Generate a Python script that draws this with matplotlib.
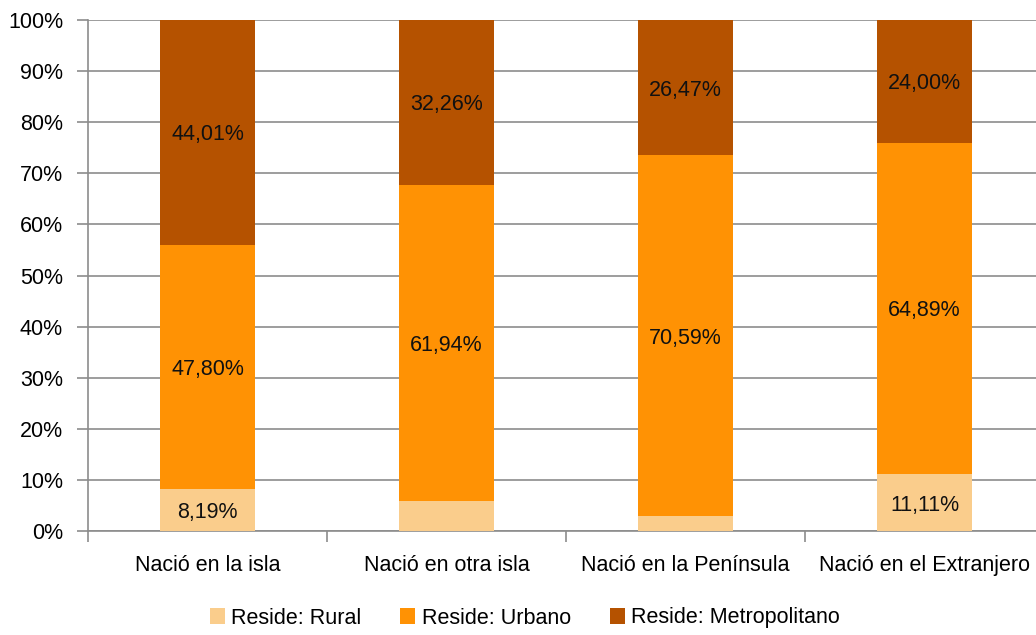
import numpy as np
import matplotlib.pyplot as plt
from matplotlib.ticker import FixedLocator, PercentFormatter

plt.rcParams['font.family'] = ['Liberation Sans', 'DejaVu Sans']

# datos (porcentajes)
categorias = ['Nació en la isla', 'Nació en otra isla', 'Nació en la Península', 'Nació en el Extranjero']
rural = [8.19, 5.80, 2.94, 11.11]
urbano = [47.80, 61.94, 70.59, 64.89]
metro = [44.01, 32.26, 26.47, 24.00]
series = ['Reside: Rural', 'Reside: Urbano', 'Reside: Metropolitano']
colores = ['#FACD8C', '#FF9204', '#B55200']
min_etiqueta = 7  # no se rotulan segmentos pequeños

fig = plt.figure(figsize=(10.36, 6.35), dpi=100)
ax = fig.add_axes([88 / 1036, 104 / 635, 956 / 1036, 511 / 635])

x = np.arange(len(categorias))
base = np.zeros(len(categorias))
for vals, nom, col in zip([rural, urbano, metro], series, colores):
    vals = np.array(vals)
    ax.bar(x, vals, 0.4, bottom=base, color=col, label=nom, zorder=3)
    for xi, b, v in zip(x, base, vals):
        if v >= min_etiqueta:
            ax.text(xi, b + v / 2, f'{v:.2f}%'.replace('.', ','), ha='center', va='center_baseline',
                    fontsize=15.5, color='#111111', zorder=4)
    base = base + vals

ax.set_xlim(-0.5, len(categorias) - 0.5)
ax.set_ylim(0, 100)
ax.yaxis.set_major_locator(FixedLocator(np.arange(0, 101, 10)))
ax.yaxis.set_major_formatter(PercentFormatter(decimals=0))
ax.grid(axis='y', color='#8C8C8C', linewidth=1.2, zorder=0)

ax.set_xticks(np.arange(-0.5, len(categorias)), [''] * (len(categorias) + 1))
ax.set_xticks(x, categorias, minor=True)
ax.tick_params(axis='x', which='major', length=8, width=1.2, color='#8C8C8C')
ax.tick_params(axis='x', which='minor', length=0, pad=17.5, labelsize=15.5)
ax.tick_params(axis='y', length=8, width=1.2, color='#8C8C8C', pad=10, labelsize=15.5)

for s in ['top', 'right']:
    ax.spines[s].set_visible(False)
for s in ['left', 'bottom']:
    ax.spines[s].set_color('#8C8C8C')
    ax.spines[s].set_linewidth(1.2)

fig.legend(loc='center', bbox_to_anchor=(525 / 1036, 17 / 635), ncol=3, frameon=False,
           fontsize=15.5, handlelength=0.7, handleheight=0.7, handletextpad=0.3,
           columnspacing=1.8)

fig.savefig('out.png', dpi=100)
